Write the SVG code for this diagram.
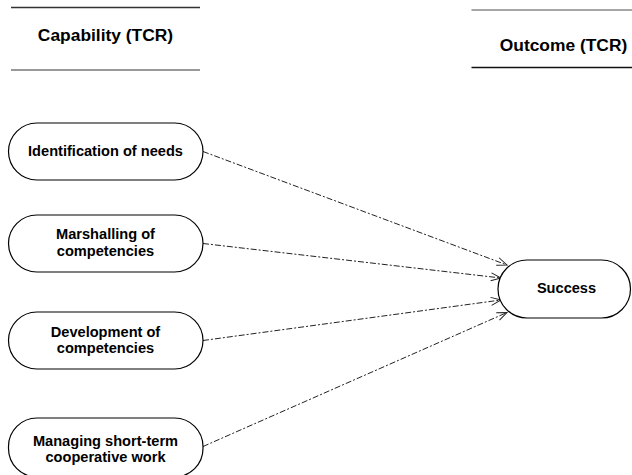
<svg xmlns="http://www.w3.org/2000/svg" width="632" height="475" viewBox="0 0 632 475">
<defs>
<style>
.t{font-family:"Liberation Sans",Arial,sans-serif;font-weight:bold;fill:#000;text-anchor:middle}
.h{font-size:17.4px}
.n{font-size:14.6px}
.node{fill:#fff;stroke:#000;stroke-width:1.2}
.c{fill:none;stroke:#222;stroke-width:1;stroke-dasharray:6,2,2,2;marker-end:url(#arr)}
</style>
<marker id="arr" markerUnits="userSpaceOnUse" markerWidth="12" markerHeight="10" refX="11" refY="4.5" orient="auto">
<path d="M1,0.5 L11,4.5 L1,8.5" fill="none" stroke="#222" stroke-width="1"/>
</marker>
</defs>
<rect width="632" height="475" fill="#fff"/>
<g id="headers">
<line x1="11" y1="7.5" x2="200" y2="7.5" stroke="#333" stroke-width="1.5"/>
<line x1="11" y1="70" x2="200" y2="70" stroke="#777" stroke-width="1.5"/>
<text class="t h" x="105.5" y="41">Capability (TCR)</text>
<line x1="471.5" y1="10" x2="632" y2="10" stroke="#888" stroke-width="1.5"/>
<line x1="471.5" y1="67.5" x2="632" y2="67.5" stroke="#111" stroke-width="1.5"/>
<text class="t h" x="563.5" y="51">Outcome (TCR)</text>
</g>
<g id="connectors">
<line class="c" x1="203" y1="151.5" x2="507" y2="265"/>
<line class="c" x1="203" y1="243.5" x2="501" y2="278"/>
<line class="c" x1="203" y1="340.5" x2="501" y2="300"/>
<line class="c" x1="203" y1="446.5" x2="507" y2="312.5"/>
</g>
<g id="n1">
<rect class="node" x="8.5" y="123" width="194.5" height="57" rx="28.5"/>
<text class="t n" x="105.5" y="156">Identification of needs</text>
</g>
<g id="n2">
<rect class="node" x="8.5" y="215" width="194.5" height="57" rx="28.5"/>
<text class="t n" x="105.5" y="239">Marshalling of</text>
<text class="t n" x="105.5" y="255.5">competencies</text>
</g>
<g id="n3">
<rect class="node" x="8.5" y="312" width="194.5" height="57" rx="28.5"/>
<text class="t n" x="105.5" y="336.5">Development of</text>
<text class="t n" x="105.5" y="353">competencies</text>
</g>
<g id="n4">
<rect class="node" x="8.5" y="418" width="194.5" height="59" rx="28.5"/>
<text class="t n" x="105.5" y="445.5">Managing short-term</text>
<text class="t n" x="105.5" y="462">cooperative work</text>
</g>
<g id="n5">
<rect class="node" x="498" y="260" width="132.5" height="58" rx="29"/>
<text class="t n" x="566.5" y="293">Success</text>
</g>
</svg>
